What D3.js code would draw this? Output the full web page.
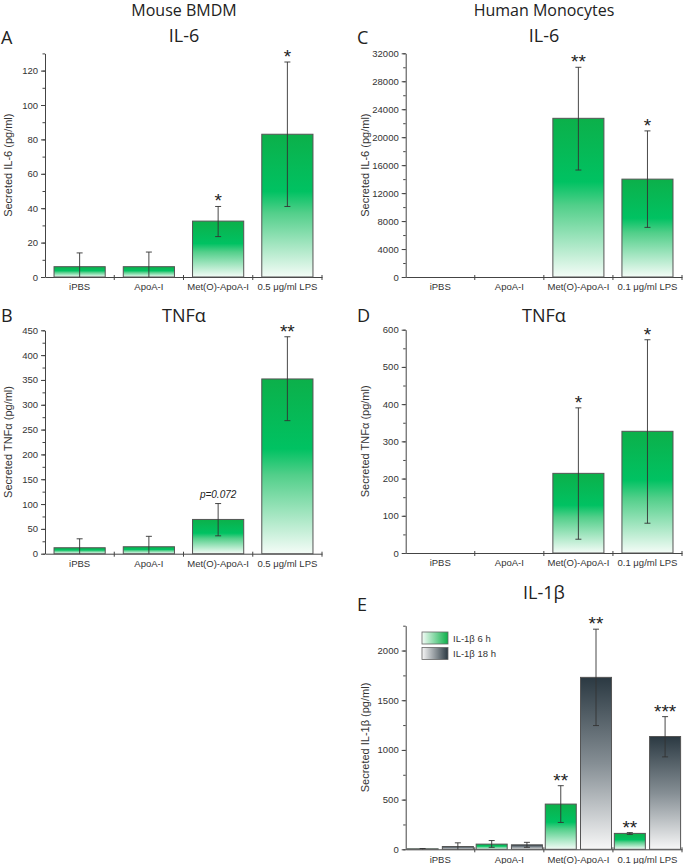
<!DOCTYPE html>
<html>
<head>
<meta charset="utf-8">
<script src="https://cdn.jsdelivr.net/npm/d3@7"></script>
<style>
  body { margin: 0; background: #fff; }
  svg text { font-family: "Liberation Sans", Arial, sans-serif; }
</style>
</head>
<body>
<div id="chart"></div>
<script>
const mouseCats = ['iPBS', 'ApoA-I', 'Met(O)-ApoA-I', '0.5 μg/ml LPS']
const humanCats = ['iPBS', 'ApoA-I', 'Met(O)-ApoA-I', '0.1 μg/ml LPS']

// mean, low, high, star label
const mouseIL6 = [6, 6, 32.5, 83]
const mouseIL6Err = [[0, 14], [0, 14.5], [23.5, 41], [41, 125]]
const mouseIL6Sig = ['', '', '*', '*']

const mouseTNF = [12, 14, 69, 352]
const mouseTNFErr = [[0, 30], [0, 35], [36, 101], [268, 437]]
const mouseTNFSig = ['', '', 'p=0.072', '**']

const humanIL6 = [null, null, 22700, 14000]
const humanIL6Err = [null, null, [15300, 30000], [7100, 20900]]
const humanIL6Sig = ['', '', '**', '*']

const humanTNF = [null, null, 214, 327]
const humanTNFErr = [null, null, [37, 390], [80, 573]]
const humanTNFSig = ['', '', '*', '*']

const il1bSeries = ['IL-1β 6 h', 'IL-1β 18 h']
const il1b6h = [5, 52, 455, 160]
const il1b6hErr = [[0, 8], [20, 88], [270, 640], [150, 168]]
const il1b6hSig = ['', '', '**', '**']
const il1b18h = [28, 45, 1730, 1135]
const il1b18hErr = [[0, 65], [20, 70], [1245, 2215], [930, 1335]]
const il1b18hSig = ['', '', '**', '***']

const svg = d3.select('#chart').append('svg')
    .attr('width', 683)
    .attr('height', 864)

const defs = svg.append('defs')
const green = defs.append('linearGradient').attr('id', 'green')
    .attr('x1', 0).attr('y1', 0).attr('x2', 0).attr('y2', 1)
green.append('stop').attr('offset', '0%').attr('stop-color', '#0cb04a')
green.append('stop').attr('offset', '40%').attr('stop-color', '#00c262')
green.append('stop').attr('offset', '55%').attr('stop-color', '#52cf8a')
green.append('stop').attr('offset', '100%').attr('stop-color', '#f4fcf7')
const grey = defs.append('linearGradient').attr('id', 'grey')
    .attr('x1', 0).attr('y1', 0).attr('x2', 0).attr('y2', 1)
grey.append('stop').attr('offset', '0%').attr('stop-color', '#2b3942')
grey.append('stop').attr('offset', '50%').attr('stop-color', '#858e94')
grey.append('stop').attr('offset', '100%').attr('stop-color', '#f7f7f7')
const greenH = defs.append('linearGradient').attr('id', 'greenH')
greenH.append('stop').attr('offset', '0%').attr('stop-color', '#f4fcf7')
greenH.append('stop').attr('offset', '100%').attr('stop-color', '#0cb04a')
const greyH = defs.append('linearGradient').attr('id', 'greyH')
greyH.append('stop').attr('offset', '0%').attr('stop-color', '#f7f7f7')
greyH.append('stop').attr('offset', '100%').attr('stop-color', '#2b3942')

const titleFont = '"Open Sans", sans-serif'

function heading(x, y, txt, size) {
    svg.append('text')
        .attr('x', x).attr('y', y)
        .attr('text-anchor', 'middle')
        .style('font-family', titleFont)
        .style('font-size', size + 'px')
        .style('fill', '#222')
        .text(txt)
}

function letter(x, y, txt) {
    svg.append('text')
        .attr('x', x).attr('y', y)
        .style('font-family', titleFont)
        .style('font-size', '18px')
        .style('fill', '#222')
        .text(txt)
}

// builds one panel; series = [{values, errs, sigs, fill}]
function panel(opt) {
    const { left, right, bottom, top, max, step, minor, cats, series, ylabel } = opt
    const g = svg.append('g')
    const x = d3.scaleBand().domain(cats).range([left, right]).padding(0)
    const keys = series.map((s, i) => i)
    const inner = series.length === 1
        ? d3.scaleBand().domain(keys).range([0, x.bandwidth()]).padding(0.15)
        : d3.scaleBand().domain(keys).range([0, x.bandwidth()]).paddingInner(0.12).paddingOuter(0.04)
    const y = d3.scaleLinear().domain([0, max]).range([bottom, top])

    // minor ticks
    g.append('g')
        .attr('transform', `translate(${left},0)`)
        .call(d3.axisLeft(y).tickValues(d3.range(0, max + 0.001, minor)).tickSize(2.5).tickFormat(''))
        .call(a => a.select('.domain').remove())
    const yAxis = g.append('g')
        .attr('transform', `translate(${left},0)`)
        .call(d3.axisLeft(y).tickValues(d3.range(0, max + 0.001, step)).tickSize(4).tickSizeOuter(0).tickFormat(d3.format('d')))
    yAxis.selectAll('text').style('font-size', '9.5px').style('fill', '#333')

    const xAxis = g.append('g')
        .attr('transform', `translate(0,${bottom})`)
        .call(d3.axisBottom(x).tickSize(0).tickSizeOuter(0))
    xAxis.selectAll('text').attr('dy', '1.1em').style('font-size', '9.5px').style('fill', '#333')
    xAxis.selectAll('.tick line').remove()
    xAxis.selectAll('.div')
        .data(cats.slice(1).concat(['end']))
        .enter().append('line')
        .attr('x1', (d, i) => i < cats.length - 1 ? x(d) : right)
        .attr('x2', (d, i) => i < cats.length - 1 ? x(d) : right)
        .attr('y1', -2).attr('y2', 3)
        .attr('stroke', '#444')
    g.selectAll('.domain').attr('stroke', '#444')
    g.selectAll('.tick line').attr('stroke', '#444')

    g.append('text')
        .attr('transform', `translate(${opt.labelX},${(top + bottom) / 2}) rotate(-90)`)
        .attr('text-anchor', 'middle')
        .style('font-size', '11px')
        .style('fill', '#333')
        .text(ylabel)

    series.forEach((s, si) => {
        const data = cats.map((c, i) => ({ c, v: s.values[i], e: s.errs[i], sig: s.sigs[i] }))
            .filter(d => d.v !== null)
        const bx = d => x(d.c) + inner(si)
        const cx = d => bx(d) + inner.bandwidth() / 2
        g.selectAll(null).data(data).enter().append('rect')
            .attr('x', bx)
            .attr('y', d => y(d.v))
            .attr('width', inner.bandwidth())
            .attr('height', d => bottom - y(d.v))
            .attr('fill', `url(#${s.fill})`)
            .attr('stroke', '#555')
            .attr('stroke-width', 1)
        const eb = g.selectAll(null).data(data).enter().append('g').attr('stroke', '#333').attr('stroke-width', 0.9)
        eb.append('line').attr('x1', cx).attr('x2', cx)
            .attr('y1', d => y(d.e[0])).attr('y2', d => y(d.e[1]))
        eb.append('line').attr('x1', d => cx(d) - 3).attr('x2', d => cx(d) + 3)
            .attr('y1', d => y(d.e[1])).attr('y2', d => y(d.e[1]))
        eb.filter(d => d.e[0] > 0).append('line').attr('x1', d => cx(d) - 3).attr('x2', d => cx(d) + 3)
            .attr('y1', d => y(d.e[0])).attr('y2', d => y(d.e[0]))
        g.selectAll(null).data(data.filter(d => d.sig)).enter().append('text')
            .attr('x', cx)
            .attr('y', d => d.sig[0] === 'p' ? y(d.e[1]) - 6 : y(d.e[1]) + 1)
            .attr('text-anchor', 'middle')
            .style('font-size', d => d.sig[0] === 'p' ? '10px' : '19px')
            .style('font-style', d => d.sig[0] === 'p' ? 'italic' : 'normal')
            .style('fill', '#222')
            .text(d => d.sig)
    })
}

heading(184, 16, 'Mouse BMDM', 16)
heading(544, 16, 'Human Monocytes', 16)

letter(1, 44, 'A')
heading(184, 42, 'IL-6', 18)
panel({ left: 45, right: 322, bottom: 277, top: 53.4, max: 130, step: 20, minor: 10, cats: mouseCats,
    ylabel: 'Secreted IL-6 (pg/ml)', labelX: 12,
    series: [{ values: mouseIL6, errs: mouseIL6Err, sigs: mouseIL6Sig, fill: 'green' }] })

letter(1, 322, 'B')
heading(184, 322, 'TNFα', 18)
panel({ left: 45, right: 322, bottom: 553.7, top: 330.3, max: 450, step: 50, minor: 25, cats: mouseCats,
    ylabel: 'Secreted TNFα (pg/ml)', labelX: 12,
    series: [{ values: mouseTNF, errs: mouseTNFErr, sigs: mouseTNFSig, fill: 'green' }] })

letter(357, 44, 'C')
heading(544, 42, 'IL-6', 18)
panel({ left: 405.7, right: 682, bottom: 277, top: 53.3, max: 32000, step: 4000, minor: 2000, cats: humanCats,
    ylabel: 'Secreted IL-6 (pg/ml)', labelX: 369,
    series: [{ values: humanIL6, errs: humanIL6Err, sigs: humanIL6Sig, fill: 'green' }] })

letter(357, 322, 'D')
heading(544, 322, 'TNFα', 18)
panel({ left: 405.7, right: 682, bottom: 553, top: 329.7, max: 600, step: 100, minor: 50, cats: humanCats,
    ylabel: 'Secreted TNFα (pg/ml)', labelX: 369,
    series: [{ values: humanTNF, errs: humanTNFErr, sigs: humanTNFSig, fill: 'green' }] })

letter(357, 611, 'E')
heading(544, 599, 'IL-1β', 18)
panel({ left: 405.7, right: 682, bottom: 849.3, top: 625.7, max: 2250, step: 500, minor: 250, cats: humanCats,
    ylabel: 'Secreted IL-1β (pg/ml)', labelX: 369,
    series: [
        { values: il1b6h, errs: il1b6hErr, sigs: il1b6hSig, fill: 'green' },
        { values: il1b18h, errs: il1b18hErr, sigs: il1b18hSig, fill: 'grey' }
    ] })

const legend = svg.append('g').attr('transform', 'translate(422,632)')
legend.selectAll('g').data(il1bSeries).enter().append('g')
    .attr('transform', (d, i) => `translate(0,${i * 15.5})`)
    .each(function (d, i) {
        const it = d3.select(this)
        it.append('rect').attr('width', 26).attr('height', 12)
            .attr('fill', i === 0 ? 'url(#greenH)' : 'url(#greyH)')
            .attr('stroke', '#666').attr('stroke-width', 0.8)
        it.append('text').attr('x', 31).attr('y', 9.5)
            .style('font-size', '9.5px').style('fill', '#333').text(d)
    })
</script>
</body>
</html>
